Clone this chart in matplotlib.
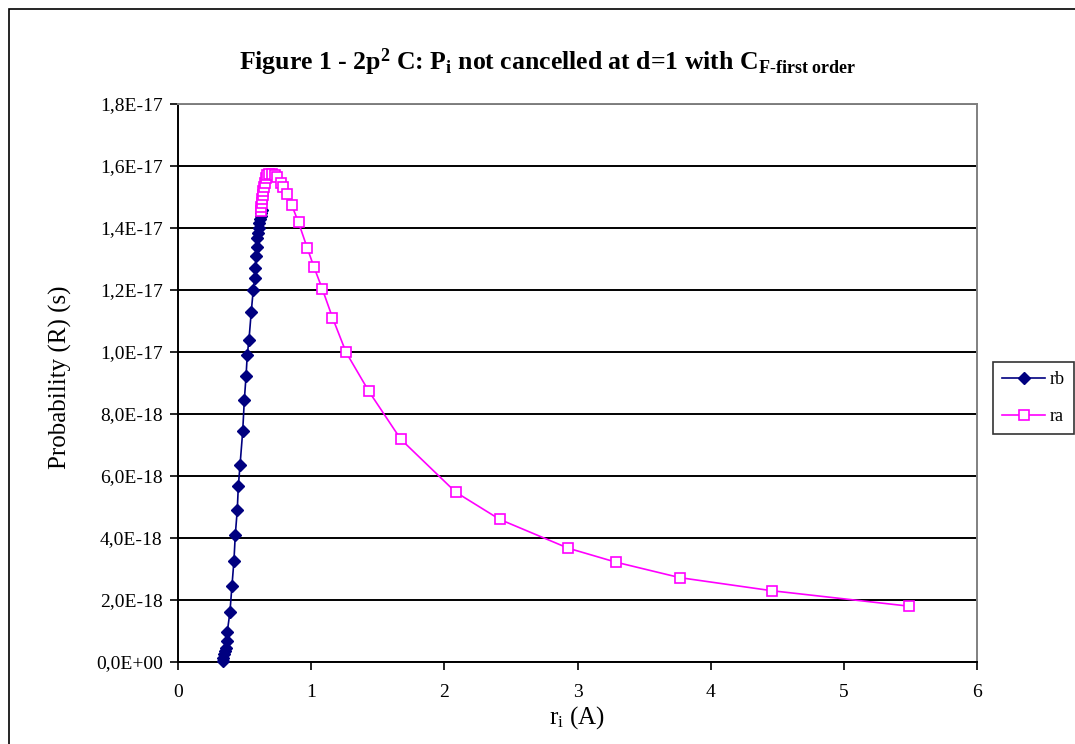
import matplotlib
matplotlib.use("Agg")
import matplotlib.pyplot as plt
from matplotlib.ticker import FuncFormatter
from matplotlib.patches import Rectangle

plt.rcParams['font.family'] = ['Liberation Serif', 'DejaVu Serif']
plt.rcParams['mathtext.fontset'] = 'custom'
plt.rcParams['mathtext.rm'] = 'Liberation Serif'
plt.rcParams['mathtext.it'] = 'Liberation Serif'
plt.rcParams['mathtext.bf'] = 'Liberation Serif:bold'

# rb series (x in Angstrom, y in units of 1e-18 s)
rb_x = [0.336, 0.340, 0.345, 0.350, 0.358, 0.366, 0.370, 0.390, 0.405, 0.420,
        0.430, 0.445, 0.453, 0.466, 0.486, 0.498, 0.511, 0.520, 0.533, 0.550,
        0.565, 0.576, 0.580, 0.586, 0.591, 0.595, 0.600, 0.605, 0.610, 0.615,
        0.620, 0.625, 0.630]
rb_y = [0.03, 0.13, 0.26, 0.36, 0.45, 0.69, 0.97, 1.61, 2.45, 3.26,
        4.09, 4.90, 5.67, 6.36, 7.45, 8.45, 9.22, 9.90, 10.40, 11.29,
        12.00, 12.38, 12.70, 13.10, 13.40, 13.68, 13.85, 14.00, 14.15, 14.28,
        14.40, 14.50, 14.58]

# ra series
ra_x = [0.621, 0.626, 0.628, 0.631, 0.636, 0.641, 0.646, 0.651, 0.659, 0.671,
        0.686, 0.706, 0.726, 0.746, 0.773, 0.791, 0.816, 0.854, 0.905, 0.971,
        1.021, 1.084, 1.160, 1.262, 1.432, 1.672, 2.085, 2.416, 2.931, 3.289,
        3.770, 4.458, 5.491]
ra_y = [14.56, 14.69, 14.82, 14.94, 15.06, 15.19, 15.33, 15.46, 15.60, 15.71,
        15.74, 15.74, 15.72, 15.64, 15.44, 15.33, 15.10, 14.74, 14.18, 13.35,
        12.74, 12.03, 11.11, 9.99, 8.74, 7.19, 5.48, 4.60, 3.67, 3.22,
        2.72, 2.30, 1.80]

x_ticks = [0, 1, 2, 3, 4, 5, 6]
y_ticks = [0, 2, 4, 6, 8, 10, 12, 14, 16, 18]

W, H = 1075, 744
fig = plt.figure(figsize=(W / 100, H / 100), dpi=100)
ax = fig.add_axes([178 / W, 1 - 662 / H, (977 - 178) / W, (662 - 104) / H])

scale = 1e-18
ax.plot(rb_x, [v * scale for v in rb_y], color='#000080', lw=1.2,
        marker='D', markersize=6.5, markerfacecolor='#000080',
        markeredgecolor='#000080', label='rb', zorder=3, clip_on=False)
ax.plot(ra_x, [v * scale for v in ra_y], color='#FF00FF', lw=1.2,
        marker='s', markersize=7.5, markerfacecolor='white',
        markeredgecolor='#FF00FF', markeredgewidth=1.2, label='ra', zorder=4,
        clip_on=False)

ax.set_xlim(0, 6)
ax.set_ylim(0, 18e-18)
ax.set_xticks(x_ticks)
ax.set_yticks([v * scale for v in y_ticks])


def yfmt(v, pos):
    return f"{v:.1E}".replace('.', ',')


ax.yaxis.set_major_formatter(FuncFormatter(yfmt))
ax.tick_params(axis='both', direction='out', length=6, width=1.2,
               labelsize=14, color='black')
ax.tick_params(axis='x', pad=10)
ax.tick_params(axis='y', pad=5)

ax.grid(axis='y', color='black', lw=1.4, zorder=1)
ax.set_axisbelow(True)
for side in ['left', 'bottom']:
    ax.spines[side].set_color('black')
    ax.spines[side].set_linewidth(1.4)
for side in ['top', 'right']:
    ax.spines[side].set_color('#808080')
    ax.spines[side].set_linewidth(1.4)

fig.text(60 / W, 1 - 377 / H, 'Probability (R) (s)', rotation=90,
         ha='center', va='center', fontsize=18)
fig.text(577 / W, 1 - 718 / H, r'r$_\mathrm{i}$ (A)',
         ha='center', va='center', fontsize=18)

fig.text(548 / W, 1 - 62 / H,
         r'Figure 1 - 2p$^\mathbf{2}$ C: P$_\mathbf{i}$ not cancelled at d=1 with C$_\mathbf{F\text{-}first\ order}$',
         ha='center', va='center', fontsize=18.5, fontweight='bold')

leg = fig.legend(loc='upper left', bbox_to_anchor=(993 / W, 1 - 362 / H),
                 fontsize=13, frameon=True, fancybox=False,
                 handlelength=2.4, borderpad=0.5, labelspacing=1.1,
                 handletextpad=0.25, borderaxespad=0)
leg.get_frame().set_edgecolor('black')
leg.get_frame().set_linewidth(1.2)

# outer chart-area border (extends beyond right and bottom edges)
fig.patches.append(Rectangle((8.5 / W, -0.1), 1.2, 1 - 8.5 / H + 0.1,
                             transform=fig.transFigure, fill=False,
                             edgecolor='black', lw=1.2))

fig.savefig('out.png', dpi=100)
